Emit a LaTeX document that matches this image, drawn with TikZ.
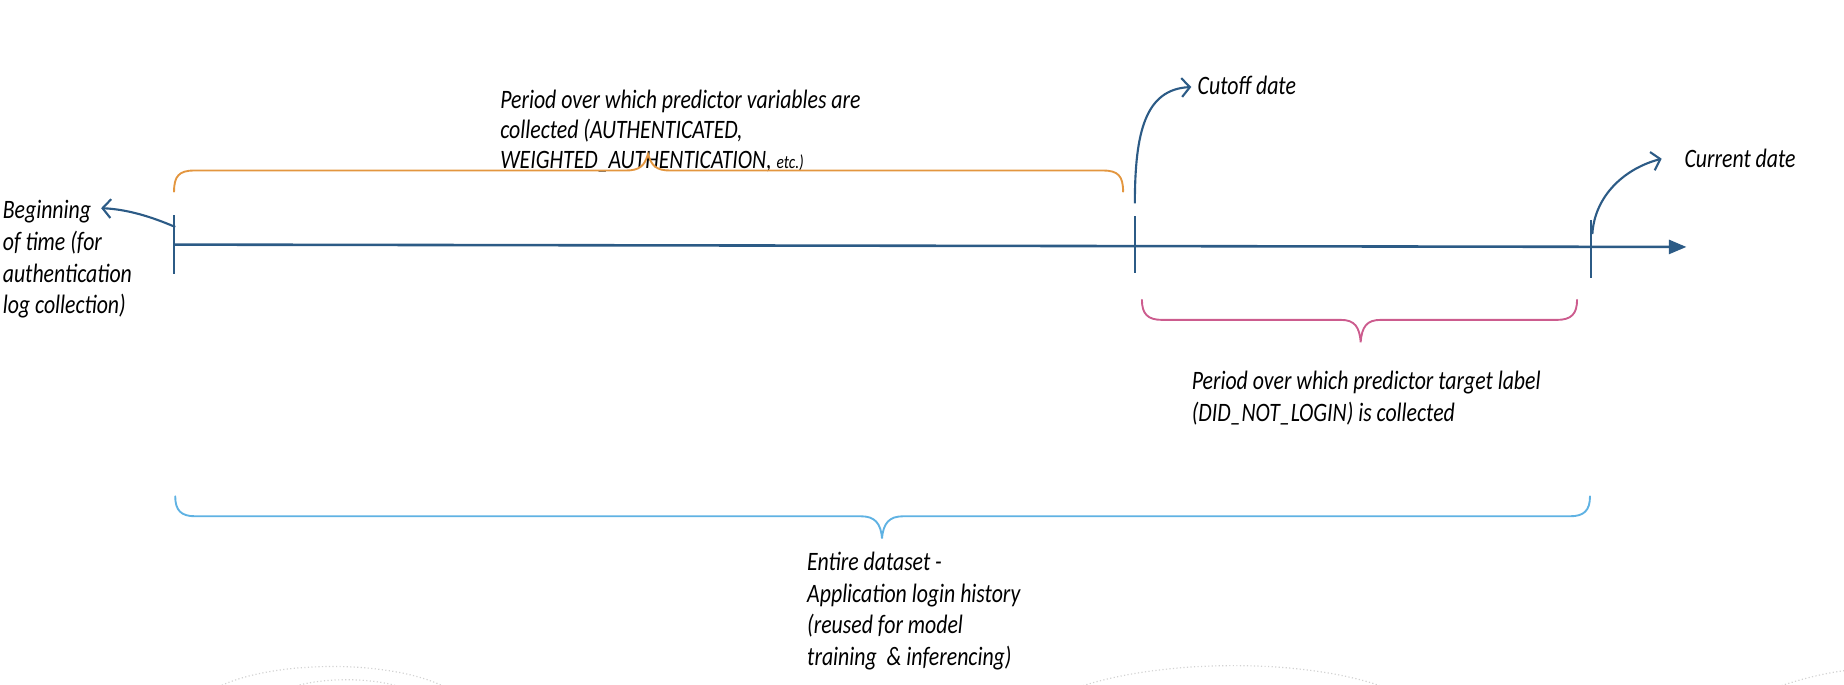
\documentclass[tikz,border=0pt]{standalone}
\usepackage{fontspec}
\setmainfont{Carlito}[FakeStretch=0.82]
\usetikzlibrary{arrows.meta}
\definecolor{axisblue}{HTML}{2C5B86}
\definecolor{braceorange}{HTML}{E3963F}
\definecolor{bracepink}{HTML}{CC5C8E}
\definecolor{braceblue}{HTML}{5FB2E3}
\begin{document}
\begin{tikzpicture}[x=0.5pt,y=-0.5pt,
  lbl/.style={font=\fontsize{11.3}{13.5}\selectfont\itshape, align=left, inner sep=0pt, anchor=north west},
  axisline/.style={draw=axisblue, line width=1.1pt},
  tickline/.style={draw=axisblue, line width=0.9pt},
  callout/.style={draw=axisblue, line width=0.9pt, -{Straight Barb[length=3.5pt,width=8pt,line width=0.9pt]}},
  bracepath/.style={line width=0.8pt, line cap=round},
  ghost/.style={draw=gray!35, densely dotted, line width=0.5pt}]
\useasboundingbox (0,0) rectangle (1568,582);

% axis
\coordinate (a0) at (148,208);
\coordinate (a1) at (1434,210);
\draw[axisline, -{Triangle[length=7.5pt,width=6pt]}] (a0) -- (a1);

% ticks
\coordinate (t1top) at (148,183);
\coordinate (t1bot) at (148,233);
\coordinate (t2top) at (965,184);
\coordinate (t2bot) at (965,232);
\coordinate (t3top) at (1353,187);
\coordinate (t3bot) at (1353,236);
\draw[tickline] (t1top) -- (t1bot);
\draw[tickline] (t2top) -- (t2bot);
\draw[tickline] (t3top) -- (t3bot);

% labels
\node[lbl] (begin) at (2,170) {Beginning\\of time (for\\authentication\\log collection)};
\node[lbl, font=\fontsize{11.3}{12.8}\selectfont\itshape] (pred) at (425,76) {Period over which predictor variables are\\collected (AUTHENTICATED,\\WEIGHTED\_AUTHENTICATION, {\fontsize{8}{10}\selectfont etc.)}};
\node[lbl] (cutoff) at (1018,64) {Cutoff date};
\node[lbl] (current) at (1432,126) {Current date};
\node[lbl] (target) at (1013,315) {Period over which predictor target label\\(DID\_NOT\_LOGIN) is collected};
\node[lbl] (entire) at (686,469) {Entire dataset -\\Application login history\\(reused for model\\training~ \& inferencing)};

% callout arrows
\coordinate (bs) at (149,193);
\coordinate (be) at (86,177);
\draw[callout] (bs) .. controls (128,184) and (108,178) .. (be);
\coordinate (cs) at (965,173);
\coordinate (ce) at (1013,74);
\draw[callout] (cs) .. controls (965,112) and (974,76) .. (ce);
\coordinate (ds) at (1354,199);
\coordinate (de) at (1413,135);
\draw[callout] (ds) .. controls (1356,166) and (1382,143) .. (de);

% braces
\draw[bracepath, draw=braceorange] (148,163) .. controls (148,150) and (152,145) .. (165,145) -- (532,145)
  .. controls (544,145) and (548,141) .. (551,131) .. controls (554,141) and (558,145) .. (570,145)
  -- (938,145) .. controls (951,145) and (955,150) .. (955,163);
\draw[bracepath, draw=bracepink] (971,255) .. controls (971,267) and (976,272) .. (988,272) -- (1140,272)
  .. controls (1152,272) and (1156,278) .. (1157,291) .. controls (1158,278) and (1162,272) .. (1174,272)
  -- (1324,272) .. controls (1336,272) and (1341,267) .. (1341,255);
\draw[bracepath, draw=braceblue] (149,422) .. controls (149,434) and (154,439) .. (166,439) -- (732,439)
  .. controls (744,439) and (749,445) .. (750,458) .. controls (751,445) and (756,439) .. (768,439)
  -- (1335,439) .. controls (1347,439) and (1352,434) .. (1352,422);

% faint background arcs
\draw[ghost] (186,584) .. controls (230,562) and (330,560) .. (378,584);
\draw[ghost] (249,584) .. controls (275,576) and (315,576) .. (340,584);
\draw[ghost] (918,584) .. controls (990,560) and (1110,560) .. (1176,584);
\draw[ghost] (1512,584) .. controls (1535,576) and (1555,572) .. (1570,570);
\end{tikzpicture}
\end{document}
